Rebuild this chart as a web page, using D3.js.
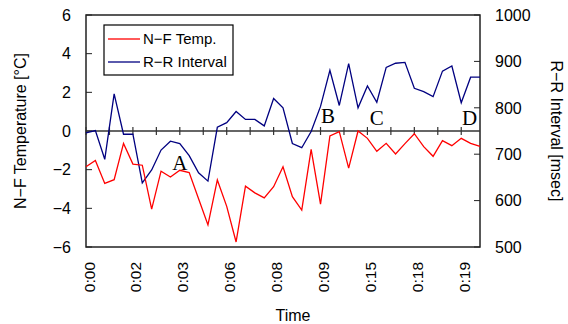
<!DOCTYPE html>
<html>
<head>
<meta charset="utf-8">
<script src="https://cdn.jsdelivr.net/npm/d3@7"></script>
<style>
  body { margin: 0; background: #fff; }
  svg { display: block; font-family: 'Liberation Sans', Arial, sans-serif; }
</style>
</head>
<body>
<svg id="chart" width="568" height="324"></svg>
<script>
const timeLabels = ['0:00', '0:02', '0:03', '0:06', '0:08', '0:09', '0:15', '0:18', '0:19'];

const nfTemp = [-1.85, -1.52, -2.71, -2.52, -0.64, -1.71, -1.77, -4.04, -2.08, -2.38,
  -2.03, -2.15, -3.5, -4.86, -2.53, -3.9, -5.74, -2.85, -3.2, -3.46,
  -2.88, -1.85, -3.4, -4.09, -0.95, -3.78, -0.26, -0.03, -1.92, 0.0,
  -0.38, -1.05, -0.64, -1.19, -0.65, -0.14, -0.81, -1.31, -0.5, -0.76,
  -0.38, -0.64, -0.8];

const rrInterval = [746, 751, 689, 830, 743, 743, 638, 666, 709, 728,
  723, 697, 660, 642, 758, 768, 792, 775, 775, 761,
  820, 800, 723, 714, 749, 803, 881, 805, 895, 800,
  847, 812, 887, 896, 898, 842, 835, 824, 879, 890,
  811, 866, 866];

const tempTicks = [-6, -4, -2, 0, 2, 4, 6];
const rrTicks = [500, 600, 700, 800, 900, 1000];

const markers = [
  { label: 'A', at: 10, temp: -2.0 },
  { label: 'B', at: 25.8, temp: 0.4 },
  { label: 'C', at: 31, temp: 0.3 },
  { label: 'D', at: 40.9, temp: 0.3 },
];

const svg = d3.select('#chart');

const x = d3.scaleLinear().domain([0, nfTemp.length - 1]).range([86, 480]);
const yTemp = d3.scaleLinear().domain([-6, 6]).range([247, 15]);
const yRR = d3.scaleLinear().domain([500, 1000]).range([247, 15]);

// frame
svg.append('rect')
  .attr('x', 86).attr('y', 15)
  .attr('width', 394).attr('height', 232)
  .attr('fill', 'none')
  .attr('stroke', '#222')
  .attr('stroke-width', 1.5);

// inner ticks on both value axes
svg.append('g')
  .selectAll('line')
  .data(tempTicks)
  .join('line')
  .attr('x1', 86).attr('x2', 92)
  .attr('y1', (d) => yTemp(d)).attr('y2', (d) => yTemp(d))
  .attr('stroke', '#222');

svg.append('g')
  .selectAll('line')
  .data(rrTicks)
  .join('line')
  .attr('x1', 474).attr('x2', 480)
  .attr('y1', (d) => yRR(d)).attr('y2', (d) => yRR(d))
  .attr('stroke', '#222');

// tick labels
svg.append('g')
  .selectAll('text')
  .data(tempTicks)
  .join('text')
  .attr('x', 71)
  .attr('y', (d) => yTemp(d))
  .attr('dy', '0.36em')
  .attr('text-anchor', 'end')
  .attr('font-size', 16)
  .text((d) => d3.format('d')(d));

svg.append('g')
  .selectAll('text')
  .data(rrTicks)
  .join('text')
  .attr('x', 495)
  .attr('y', (d) => yRR(d))
  .attr('dy', '0.36em')
  .attr('font-size', 16)
  .text((d) => d);

// zero line with crossing ticks
svg.append('line')
  .attr('x1', 86).attr('x2', 480)
  .attr('y1', yTemp(0)).attr('y2', yTemp(0))
  .attr('stroke', '#333')
  .attr('stroke-width', 1.5);

svg.append('g')
  .selectAll('line')
  .data(d3.range(0, nfTemp.length - 1, 2.5))
  .join('line')
  .attr('x1', (d) => x(d)).attr('x2', (d) => x(d))
  .attr('y1', yTemp(0) - 4).attr('y2', yTemp(0) + 4)
  .attr('stroke', '#333')
  .attr('stroke-width', 1.2);

// time labels, one every 5 samples
svg.append('g')
  .selectAll('text')
  .data(timeLabels)
  .join('text')
  .attr('transform', (d, i) => `translate(${x(i * 5) + 3},262)rotate(-90)`)
  .attr('dy', '0.36em')
  .attr('text-anchor', 'end')
  .attr('font-size', 15.5)
  .text((d) => d);

// series
const tempLine = d3.line()
  .x((d, i) => x(i))
  .y((d) => yTemp(d));

const rrLine = d3.line()
  .x((d, i) => x(i))
  .y((d) => yRR(d));

svg.append('path')
  .datum(rrInterval)
  .attr('d', rrLine)
  .attr('fill', 'none')
  .attr('stroke', '#000080')
  .attr('stroke-width', 1.3);

svg.append('path')
  .datum(nfTemp)
  .attr('d', tempLine)
  .attr('fill', 'none')
  .attr('stroke', '#ff0000')
  .attr('stroke-width', 1.3);

// A-D markers
svg.append('g')
  .selectAll('text')
  .data(markers)
  .join('text')
  .attr('x', (d) => x(d.at))
  .attr('y', (d) => yTemp(d.temp))
  .attr('text-anchor', 'middle')
  .attr('font-family', "'Liberation Serif', 'Times New Roman', serif")
  .attr('font-size', 21)
  .text((d) => d.label);

// legend
const legend = svg.append('g');
legend.append('rect')
  .attr('x', 104).attr('y', 25)
  .attr('width', 129).attr('height', 50)
  .attr('fill', '#fff')
  .attr('stroke', '#000')
  .attr('stroke-width', 1.2);

const legendItems = [
  { name: 'N\u2212F Temp.', color: '#ff0000' },
  { name: 'R\u2212R Interval', color: '#000080' },
];

legend.selectAll('line')
  .data(legendItems)
  .join('line')
  .attr('x1', 108).attr('x2', 140)
  .attr('y1', (d, i) => 39 + i * 23).attr('y2', (d, i) => 39 + i * 23)
  .attr('stroke', (d) => d.color)
  .attr('stroke-width', 1.3);

legend.selectAll('text')
  .data(legendItems)
  .join('text')
  .attr('x', 143)
  .attr('y', (d, i) => 39 + i * 23)
  .attr('dy', '0.36em')
  .attr('font-size', 15)
  .text((d) => d.name);

// axis titles
svg.append('text')
  .attr('transform', 'translate(20,131)rotate(-90)')
  .attr('dy', '0.36em')
  .attr('text-anchor', 'middle')
  .attr('font-size', 16)
  .text('N\u2212F Temperature [\u00b0C]');

svg.append('text')
  .attr('transform', 'translate(557,131)rotate(90)')
  .attr('dy', '0.36em')
  .attr('text-anchor', 'middle')
  .attr('font-size', 16)
  .text('R\u2212R Interval [msec]');

svg.append('text')
  .attr('x', 293)
  .attr('y', 321)
  .attr('text-anchor', 'middle')
  .attr('font-size', 16)
  .text('Time');
</script>
</body>
</html>
